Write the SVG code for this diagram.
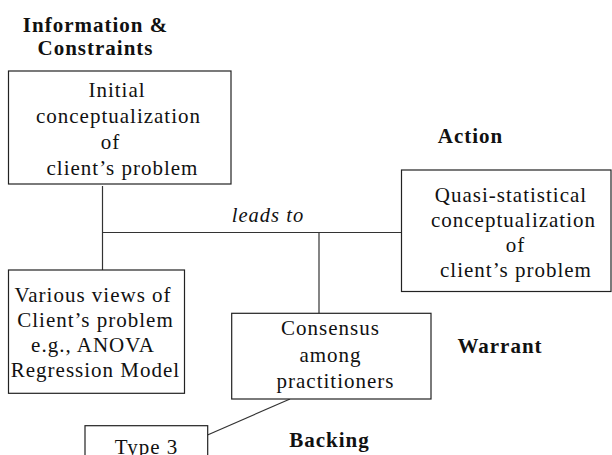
<svg xmlns="http://www.w3.org/2000/svg" width="612" height="455" viewBox="0 0 612 455">
<style>
.box{fill:#fff;stroke:#222;stroke-width:1.2}
.ln{fill:none;stroke:#333;stroke-width:1.2}
.t{font-family:"Liberation Serif","Times New Roman",serif;font-size:21px;letter-spacing:1px;fill:#111;text-anchor:middle}
.b{font-weight:bold}
.i{font-style:italic;font-size:20.5px}
</style>
<rect width="612" height="455" fill="#fff"/>
<g id="connectors">
<line class="ln" x1="102.5" y1="186" x2="102.5" y2="270"/>
<line class="ln" x1="102.5" y1="232.5" x2="401.5" y2="232.5"/>
<line class="ln" x1="319" y1="232.5" x2="319" y2="313.5"/>
<line class="ln" x1="290" y1="399" x2="207.5" y2="435"/>
<text class="t i" x="268" y="221.7">leads to</text>
</g>
<g id="label-information">
<text class="t b" x="95.5" y="31.7">Information &amp;</text>
<text class="t b" x="95.5" y="55">Constraints</text>
</g>
<g id="label-action"><text class="t b" x="470.5" y="142.7">Action</text></g>
<g id="label-warrant"><text class="t b" x="500" y="352.7">Warrant</text></g>
<g id="label-backing"><text class="t b" x="329.5" y="446.7">Backing</text></g>
<g id="node-initial">
<rect class="box" x="8.5" y="71" width="222.5" height="113"/>
<text class="t" x="117" y="97.3">Initial</text>
<text class="t" x="118.5" y="123">conceptualization</text>
<text class="t" x="110.5" y="149">of</text>
<text class="t" x="122.5" y="175">client’s problem</text>
</g>
<g id="node-quasi">
<rect class="box" x="401.5" y="170" width="209.5" height="121.5"/>
<text class="t" x="511" y="201.7">Quasi-statistical</text>
<text class="t" x="513.5" y="226.6">conceptualization</text>
<text class="t" x="515.5" y="251.5">of</text>
<text class="t" x="516" y="276.5">client’s problem</text>
</g>
<g id="node-various">
<rect class="box" x="8.5" y="270" width="176" height="123.3"/>
<text class="t" x="93" y="301.7">Various views of</text>
<text class="t" x="95.5" y="326.7">Client’s problem</text>
<text class="t" x="93" y="351.7">e.g., ANOVA</text>
<text class="t" x="95.5" y="376.7">Regression Model</text>
</g>
<g id="node-consensus">
<rect class="box" x="231.7" y="313.3" width="199.3" height="85.7"/>
<text class="t" x="330.5" y="335">Consensus</text>
<text class="t" x="330.5" y="361.7">among</text>
<text class="t" x="335.5" y="388.3">practitioners</text>
</g>
<g id="node-type3">
<rect class="box" x="85" y="425.7" width="122.7" height="40"/>
<text class="t" x="146.5" y="454">Type 3</text>
</g>
</svg>
